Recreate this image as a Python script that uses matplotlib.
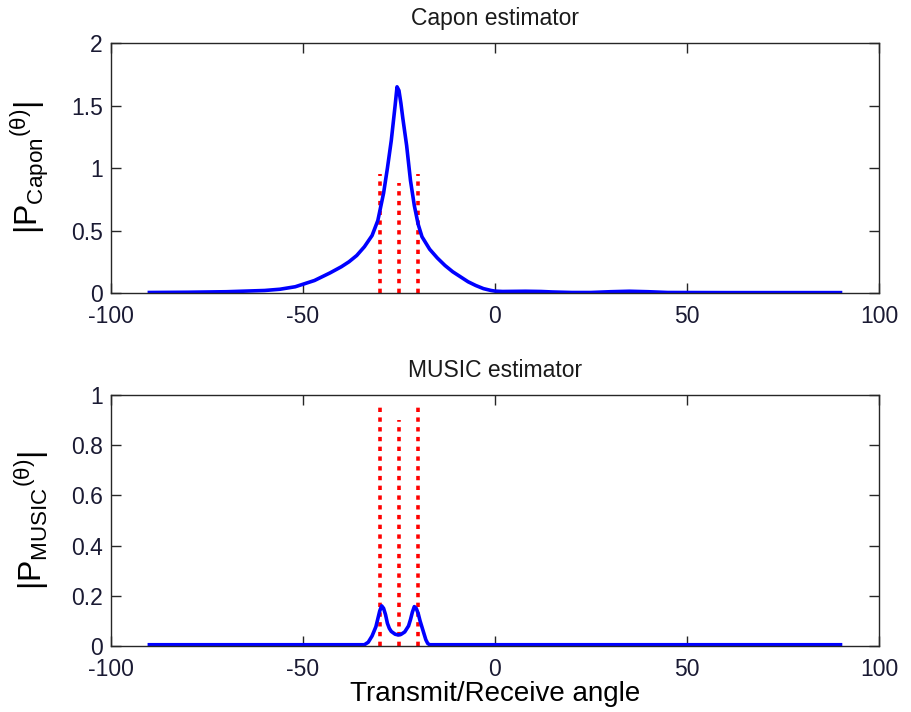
import numpy as np
import matplotlib
matplotlib.use('Agg')
import matplotlib.pyplot as plt

plt.rcParams['font.family'] = ['Liberation Sans', 'DejaVu Sans']
plt.rcParams['mathtext.fontset'] = 'custom'
plt.rcParams['mathtext.rm'] = 'Liberation Sans'
plt.rcParams['mathtext.it'] = 'Liberation Sans'
plt.rcParams['axes.unicode_minus'] = False

# Capon spectrum
capon_x = [-90, -80, -70, -60, -56, -52, -50, -47, -43, -40, -38, -36, -34, -32,
           -30.5, -29, -28, -27, -26, -25.5, -25, -24.5, -24, -23, -22, -21, -20,
           -19, -17, -15, -13, -11, -9, -7, -5, -3, -1, 0, 2, 5, 8, 12, 15, 20,
           25, 30, 35, 40, 45, 60, 75, 90]
capon_y = [0.004, 0.006, 0.01, 0.02, 0.03, 0.05, 0.07, 0.10, 0.16, 0.21, 0.25, 0.30,
           0.37, 0.46, 0.58, 0.80, 1.00, 1.22, 1.50, 1.65, 1.62, 1.52, 1.40, 1.18,
           0.90, 0.70, 0.55, 0.45, 0.35, 0.28, 0.22, 0.17, 0.13, 0.09, 0.06, 0.035,
           0.02, 0.015, 0.012, 0.013, 0.014, 0.012, 0.008, 0.004, 0.004, 0.010,
           0.014, 0.010, 0.004, 0.003, 0.003, 0.003]

# MUSIC spectrum
music_x = [-90, -34, -33, -32, -31, -30, -29.5, -29, -28.5, -28, -27.5, -27, -26,
           -25.2, -24.5, -23.5, -22.5, -22, -21.5, -21, -20.5, -20, -19.5, -19,
           -18.5, -18, -17.5, -17, 90]
music_y = [0.005, 0.005, 0.015, 0.04, 0.077, 0.14, 0.16, 0.15, 0.125, 0.09, 0.07,
           0.058, 0.047, 0.044, 0.046, 0.056, 0.08, 0.105, 0.135, 0.157, 0.15,
           0.13, 0.10, 0.075, 0.05, 0.025, 0.01, 0.005, 0.005]

# true angles (red dotted markers)
true_x = [-30, -25, -20]
capon_true_h = [0.95, 0.88, 0.95]
music_true_h = [0.97, 0.90, 0.97]

fig = plt.figure(figsize=(9.12, 7.12), dpi=100)
ax1 = fig.add_axes([0.1217, 0.5885, 0.842, 0.351])
ax2 = fig.add_axes([0.1217, 0.0927, 0.842, 0.3525])

def estilo(ax):
    for s in ax.spines.values():
        s.set_color('#262626')
        s.set_linewidth(1.0)
    ax.tick_params(direction='in', length=7, width=1, top=True, right=True,
                   labelsize=16.5, colors='#262626', labelcolor='#1a1a33')
    ax.tick_params(axis='x', pad=9)
    ax.tick_params(axis='y', pad=6)
    ax.set_xlim(-100, 100)
    ax.set_xticks(np.arange(-100, 101, 50))

for xv, h in zip(true_x, capon_true_h):
    ax1.plot([xv, xv], [0, h], color='red', linewidth=2.6, linestyle=(0, (1.2, 1.5)),
             dash_capstyle='butt')
ax1.plot(capon_x, capon_y, color='blue', linewidth=2.6)
estilo(ax1)
ax1.set_ylim(0, 2)
ax1.set_yticks([0, 0.5, 1, 1.5, 2])
ax1.set_yticklabels(['0', '0.5', '1', '1.5', '2'])
ax1.set_title('Capon estimator', fontsize=16.5, color='#1a1a1a', pad=13)
ax1.set_ylabel(r'$|\mathrm{P}_{\mathrm{Capon}}{}^{(\theta)}|$', fontsize=23, labelpad=14)

for xv, h in zip(true_x, music_true_h):
    ax2.plot([xv, xv], [0, h], color='red', linewidth=2.6, linestyle=(0, (1.2, 1.5)),
             dash_capstyle='butt')
ax2.plot(music_x, music_y, color='blue', linewidth=2.6)
estilo(ax2)
ax2.set_ylim(0, 1)
ax2.set_yticks([0, 0.2, 0.4, 0.6, 0.8, 1])
ax2.set_yticklabels(['0', '0.2', '0.4', '0.6', '0.8', '1'])
ax2.set_title('MUSIC estimator', fontsize=16.5, color='#1a1a1a', pad=13)
ax2.set_ylabel(r'$|\mathrm{P}_{\mathrm{MUSIC}}{}^{(\theta)}|$', fontsize=23, labelpad=14)
ax2.set_xlabel('Transmit/Receive angle', fontsize=20, labelpad=0)

plt.savefig('out.png', dpi=100)
